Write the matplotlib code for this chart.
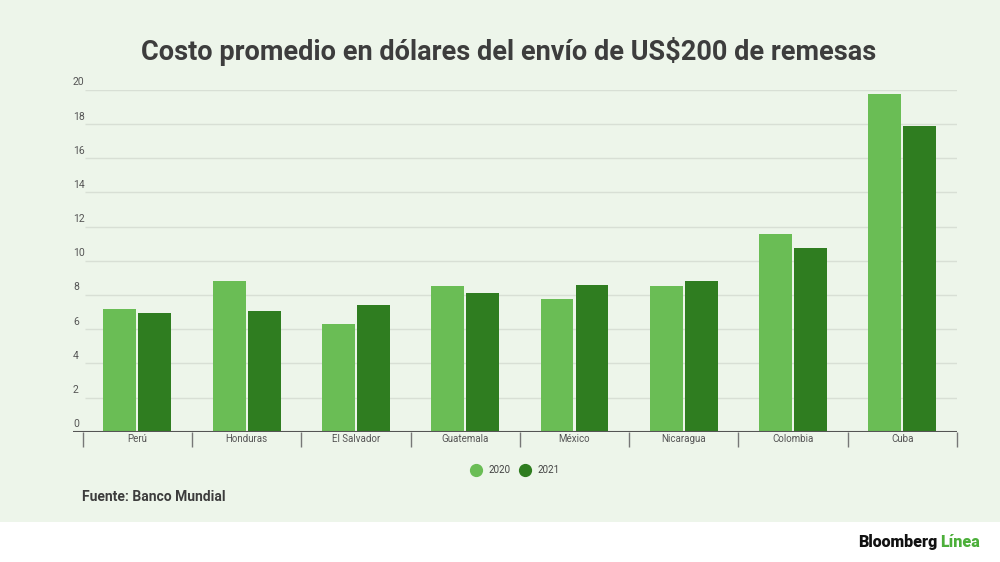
import matplotlib.pyplot as plt
import numpy as np
from matplotlib.patches import Rectangle
from matplotlib.lines import Line2D

# ====== Data ======
countries = ["Perú", "Honduras", "El Salvador", "Guatemala", "México",
             "Nicaragua", "Colombia", "Cuba"]
cost_2020 = [7.2, 8.8, 6.3, 8.55, 7.75, 8.55, 11.55, 19.75]
cost_2021 = [6.95, 7.05, 7.4, 8.1, 8.6, 8.8, 10.75, 17.9]
years = ["2020", "2021"]
y_ticks = [0, 2, 4, 6, 8, 10, 12, 14, 16, 18, 20]

# ====== Style ======
BG = "#edf5ea"
C2020 = "#6abd55"
C2021 = "#2f7d20"
TEXT = "#3d3d3d"
plt.rcParams['font.family'] = ['Roboto', 'DejaVu Sans']

fig = plt.figure(figsize=(10, 5.62), dpi=100)
fig.patch.set_facecolor("white")
fig.patches.append(Rectangle((0, 0.0717), 1, 1, transform=fig.transFigure,
                             facecolor=BG, edgecolor="none", zorder=-10))

# axes spans px 73..957 horizontally, 90..432 vertically
ax = fig.add_axes([0.073, 0.2318, 0.884, 0.6082])
ax.set_facecolor("none")
x = np.arange(len(countries))
ax.set_xlim(-0.5 - 0.089, len(countries) - 0.5)
ax.set_ylim(0, 20)

# gridlines
ax.hlines(y_ticks[1:], -0.48, len(countries) - 0.5, color="#d8dfd5", lw=1, zorder=0)

bw = 0.3
ax.bar(x - 0.16, cost_2020, width=bw, color=C2020, zorder=2)
ax.bar(x + 0.16, cost_2021, width=bw, color=C2021, zorder=2)

for s in ax.spines.values():
    s.set_visible(False)
ax.axhline(0, color="#555555", lw=1.5, zorder=3)
ax.set_xticks([])
ax.set_yticks([])

# y labels sitting above gridlines
for t in y_ticks:
    ax.text(-0.5 - 0.089, t + 0.15, str(t), ha="left", va="bottom",
            fontsize=7.5, color="#555555")

# category separators and labels
bounds = np.arange(len(countries) + 1) - 0.5
ax.vlines(bounds, -0.9, 0, color="#777777", lw=1, clip_on=False)
for xi, name in zip(x, countries):
    ax.text(xi, -0.45, name, ha="center", va="center", fontsize=7, color="#555555")

# legend
handles = [Line2D([], [], marker="o", ls="none", markersize=8.5, color=c)
           for c in (C2020, C2021)]
fig.legend(handles, years, loc="center", bbox_to_anchor=(0.513, 1 - 470 / 562),
           ncol=2, frameon=False, fontsize=7, handletextpad=0.3,
           columnspacing=0.5, labelcolor="#444444")

# texts
fig.text(0.509, 1 - 51 / 562, "Costo promedio en dólares del envío de US$200 de remesas",
         ha="center", va="center", fontsize=19.5, fontweight="bold", color=TEXT)
fig.text(0.082, 1 - 497 / 562, "Fuente: Banco Mundial", ha="left", va="center",
         fontsize=10, fontweight="bold", color=TEXT)
fig.text(0.937, 1 - 542 / 562, "Bloomberg", ha="right", va="center",
         fontsize=11.5, fontweight="heavy", color="#111111")
fig.text(0.940, 1 - 542 / 562, "Línea", ha="left", va="center",
         fontsize=11.5, fontweight="heavy", color="#4caf3a")

fig.savefig("out.png", dpi=100, facecolor=fig.get_facecolor())
